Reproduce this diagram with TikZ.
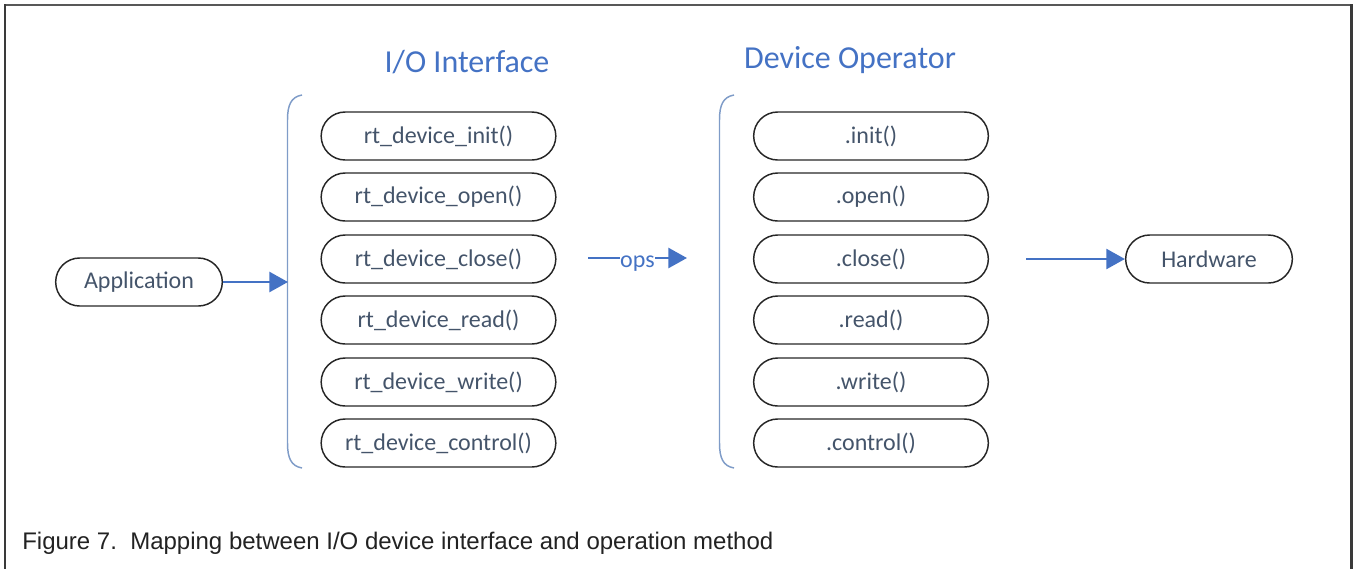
\documentclass[tikz,border=0pt]{standalone}
\usepackage{fontspec}
\setmainfont{Carlito}
\newfontfamily\capfont{Liberation Sans}
\usetikzlibrary{arrows.meta}
\definecolor{labblue}{HTML}{44546A}
\definecolor{accent}{HTML}{4472C4}
\definecolor{bracecol}{HTML}{7F9CC8}
\definecolor{framecol}{HTML}{3A3A3A}
\definecolor{captext}{HTML}{222222}
\tikzset{
  fnbox/.style={draw=black!85, line width=1.1pt, rounded corners=18pt,
    minimum width=176pt, minimum height=36pt, inner sep=0pt,
    text=labblue, font=\fontsize{18}{20}\selectfont},
  endbox/.style={fnbox, minimum width=125pt},
  header/.style={text=accent, font=\fontsize{24}{28}\selectfont, inner sep=0pt},
  flowline/.style={draw=accent, line width=2pt},
  flow/.style={flowline, -{Triangle[length=14pt,width=15pt]}},
  bracket/.style={draw=bracecol, line width=1.1pt},
}
\begin{document}
\begin{tikzpicture}[x=0.75pt,y=-0.75pt]
\useasboundingbox (0,0) rectangle (1354,569);
% outer frame (open at the bottom)
\draw[draw=framecol!85, line width=1.6pt] (5,5) -- (1352,5);
\draw[draw=framecol, line width=2.2pt] (5,4) -- (5,569);
\draw[draw=framecol, line width=2.2pt] (1351.5,4) -- (1351.5,569);

% column headings
\node[header] (hIO) at (467,62) {I/O Interface};
\node[header] (hDev) at (850,60) {Device Operator};

% application and hardware
\node[endbox] (app) at (139,282) {Application};
\node[endbox] (hw) at (1209,259) {Hardware};

% interface functions and operator methods
\foreach \y/\f/\m [count=\i] in {
  136/init/init, 197/open/open, 259/close/close,
  320/read/read, 382/write/write, 443/control/control}{
  \node[fnbox] (io\i) at (438.5,\y) {rt\_device\_\f()};
  \node[fnbox] (op\i) at (871,\y) {.\m()};
}

% brackets grouping each column
\draw[bracket] (302,95) .. controls (291,97) and (287.5,105) .. (287.5,120)
  -- (287.5,443) .. controls (287.5,458) and (291,466) .. (302,468);
\draw[bracket] (734,95) .. controls (723,97) and (719.5,105) .. (719.5,120)
  -- (719.5,443) .. controls (719.5,458) and (723,466) .. (734,468);
\coordinate (ioIn) at (288,282);
\coordinate (opsFrom) at (588,258);
\coordinate (opsTo) at (687,258);
\coordinate (hwFrom) at (1026,259);

% connectors
\draw[flow] (app.east) -- (ioIn);
\node[anchor=base, inner sep=0pt, text=accent,
  font=\fontsize{18}{20}\selectfont] (opsLbl) at (637.5,267) {ops};
\draw[flowline] (opsFrom) -- (opsLbl.west |- opsFrom);
\draw[flow] (opsLbl.east |- opsTo) -- (opsTo);
\draw[flow] (hwFrom) -- (hw.west);

% caption
\node[anchor=base west, inner sep=0pt, text=captext,
  font=\capfont\fontsize{18}{21}\selectfont] (cap) at (22,549)
  {Figure 7.\ \ Mapping between I/O device interface and operation method};
\end{tikzpicture}
\end{document}
